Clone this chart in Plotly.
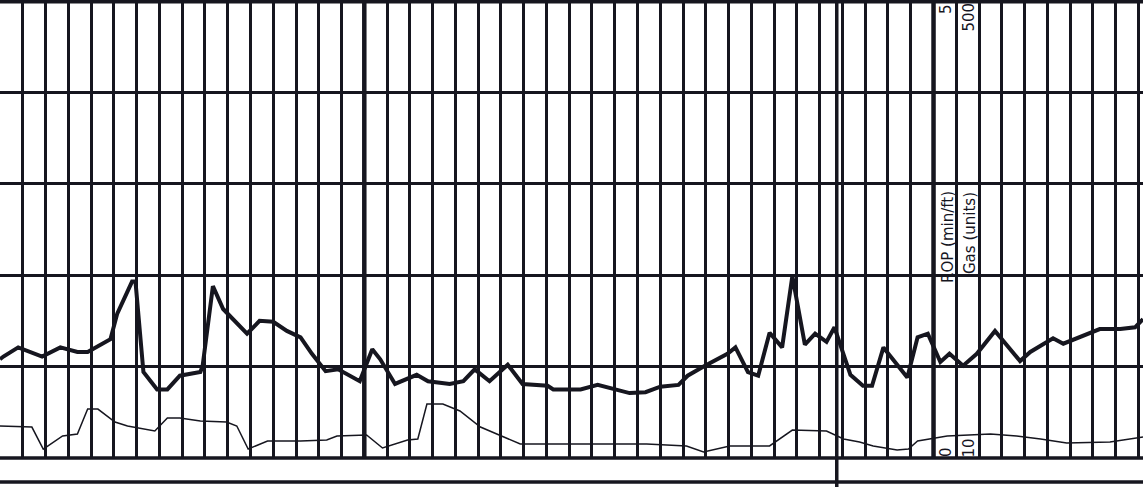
import plotly.graph_objects as go

# depth (ft) along the log (one vertical line every 2 ft)
rop_depth = [8518.0, 8518.3, 8519.6, 8521.7, 8523.3, 8524.8, 8525.7, 8527.7, 8528.3, 8529.6,
             8529.9, 8530.6, 8531.8, 8532.7, 8533.8, 8535.6, 8535.8, 8536.7, 8537.6, 8539.7,
             8540.8, 8542.0, 8543.2, 8544.4, 8545.4, 8546.6, 8547.7, 8549.6, 8550.7, 8551.4,
             8552.7, 8554.6, 8555.6, 8557.5, 8558.7, 8559.7, 8561.0, 8562.6, 8563.9, 8566.1,
             8566.6, 8569.0, 8570.5, 8573.3, 8574.7, 8576.0, 8577.6, 8578.4, 8579.8, 8581.9,
             8582.6, 8583.7, 8584.6, 8585.6, 8586.7, 8587.6, 8588.7, 8589.6, 8590.6, 8591.3,
             8592.7, 8593.8, 8594.6, 8595.6, 8597.7, 8598.6, 8599.5, 8600.6, 8601.4, 8602.6,
             8603.8, 8605.4, 8607.6, 8608.5, 8610.5, 8611.4, 8614.6, 8616.4, 8617.7, 8618.4]
rop = [1.08, 1.11, 1.21, 1.11, 1.21, 1.16, 1.16, 1.30, 1.58, 1.93,
       1.93, 0.94, 0.75, 0.75, 0.90, 0.94, 1.01, 1.88, 1.63, 1.36,
       1.50, 1.49, 1.39, 1.32, 1.14, 0.95, 0.97, 0.84, 1.19, 1.08,
       0.81, 0.91, 0.84, 0.81, 0.84, 0.97, 0.84, 1.02, 0.81, 0.79,
       0.75, 0.75, 0.80, 0.71, 0.72, 0.78, 0.80, 0.90, 1.00, 1.14,
       1.21, 0.94, 0.90, 1.37, 1.21, 1.99, 1.24, 1.36, 1.27, 1.43,
       0.91, 0.79, 0.79, 1.21, 0.88, 1.32, 1.36, 1.05, 1.14, 1.01,
       1.14, 1.39, 1.06, 1.16, 1.31, 1.25, 1.41, 1.41, 1.43, 1.52]

gas_depth = [8518.0, 8520.8, 8521.8, 8523.5, 8524.8, 8525.7, 8526.6, 8528.1, 8529.2, 8531.6,
             8532.7, 8533.8, 8535.6, 8537.9, 8538.8, 8539.8, 8541.5, 8544.4, 8546.7, 8547.6,
             8550.2, 8551.6, 8553.8, 8554.7, 8555.5, 8556.9, 8558.4, 8560.2, 8563.7, 8569.0,
             8574.8, 8578.3, 8579.8, 8582.1, 8585.6, 8587.6, 8590.6, 8592.1, 8593.5, 8594.7,
             8596.8, 8597.8, 8598.6, 8601.2, 8605.0, 8607.3, 8609.4, 8611.7, 8615.5, 8618.4]
gas = [44.3, 43.2, 19.6, 33.6, 35.7, 62.5, 62.5, 48.6, 44.3, 38.9,
       52.9, 52.9, 49.7, 48.6, 44.3, 19.6, 28.2, 28.2, 29.3, 33.6,
       34.7, 20.7, 29.3, 30.4, 67.9, 67.9, 60.4, 43.2, 25.0, 25.0,
       25.0, 22.9, 16.4, 22.9, 22.9, 40.0, 38.9, 30.4, 27.2, 22.9,
       18.6, 19.6, 28.2, 33.6, 35.7, 33.6, 30.4, 26.1, 27.2, 32.5]

heavy_lines = [8550, 8600]   # every 50 ft
bit_change = 8591.5          # separator running through the footer strip

ink = '#16161f'
W, H = 1143, 487
bottom_margin = 29
plot_h = H - bottom_margin

fig = go.Figure()

fig.add_trace(go.Scatter(
    x=gas_depth, y=gas, mode='lines', yaxis='y2',
    line=dict(color=ink, width=1.5), showlegend=False, hoverinfo='skip'
))
fig.add_trace(go.Scatter(
    x=rop_depth, y=rop, mode='lines',
    line=dict(color=ink, width=4), showlegend=False
))

shapes = []
for d in heavy_lines:
    shapes.append(dict(type='line', xref='x', yref='paper', x0=d, x1=d, y0=0, y1=1,
                       line=dict(color=ink, width=4.5)))
shapes.append(dict(type='line', xref='x', yref='paper', x0=bit_change, x1=bit_change,
                   y0=-bottom_margin / plot_h, y1=1, line=dict(color=ink, width=3.5)))
# frame: top border, base of track, footer rule
shapes.append(dict(type='line', xref='paper', yref='paper', x0=0, x1=1, y0=1 - 1.5 / plot_h,
                   y1=1 - 1.5 / plot_h, line=dict(color=ink, width=4)))
shapes.append(dict(type='line', xref='paper', yref='paper', x0=0, x1=1, y0=0, y1=0,
                   line=dict(color=ink, width=3.5)))
shapes.append(dict(type='line', xref='paper', yref='paper', x0=0, x1=1,
                   y0=-(482 - plot_h) / plot_h, y1=-(482 - plot_h) / plot_h,
                   line=dict(color=ink, width=3.5)))

font = dict(family='DejaVu Sans', size=15, color=ink)


def px(xp, yp):
    return xp / W, 1 - yp / plot_h


annotations = []
for text, (xp, yp), ya in [
    ('5', (946, 3), 'top'),
    ('500', (968, 2), 'top'),
    ('ROP (min/ft)', (948, 284), 'bottom'),
    ('Gas (units)', (970, 275), 'bottom'),
    ('0', (946, 458), 'bottom'),
    ('10', (968, 459), 'bottom'),
]:
    ax, ay = px(xp, yp)
    annotations.append(dict(text=text, x=ax, y=ay, xref='paper', yref='paper',
                            xanchor='center', yanchor=ya, textangle=-90,
                            showarrow=False, font=font, borderpad=0))

fig.update_layout(
    width=W, height=H,
    margin=dict(l=0, r=0, t=0, b=bottom_margin),
    paper_bgcolor='white', plot_bgcolor='white',
    xaxis=dict(range=[8518.0, 8618.4], showgrid=True, dtick=2, tick0=8520,
               gridcolor=ink, gridwidth=2.5, showticklabels=False, ticks='',
               zeroline=False, showline=False),
    yaxis=dict(range=[0, 5.01], showgrid=True, dtick=1, tick0=0,
               gridcolor=ink, gridwidth=2.5, showticklabels=False, ticks='',
               zeroline=False, showline=False),
    yaxis2=dict(range=[10, 501.1], overlaying='y', showgrid=False,
                showticklabels=False, ticks='', zeroline=False, showline=False),
    shapes=shapes,
    annotations=annotations,
)

# drop the default page margin so the chart sits at the window's corner
fig.write_html("out.html", config={'displayModeBar': False},
               post_script="document.body.style.margin='0';")
